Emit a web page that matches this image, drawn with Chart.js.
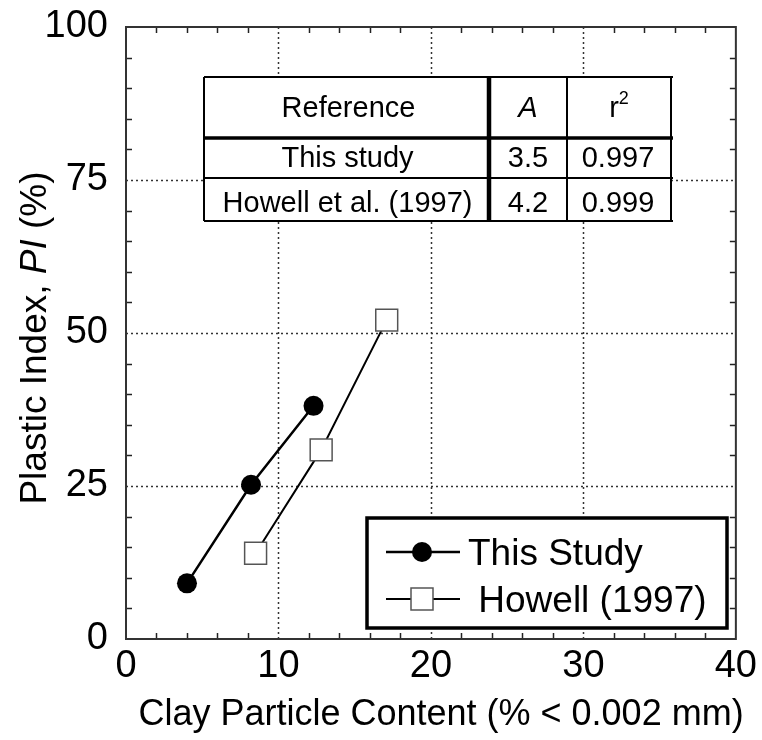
<!DOCTYPE html>
<html>
<head>
<meta charset="utf-8">
<script src="https://cdn.jsdelivr.net/npm/chart.js@4.4.1/dist/chart.umd.min.js"></script>
<style>
  html, body { margin: 0; padding: 0; background: #fff; }
  #wrap { width: 762px; height: 740px; position: relative; }
</style>
</head>
<body>
<div id="wrap"><canvas id="pi-chart"></canvas></div>
<script>
// Clay content vs plastic index
const xThisStudy = [4.0, 8.2, 12.3];
const yThisStudy = [9.1, 25.2, 38.1];
const xHowell = [8.5, 12.8, 17.1];
const yHowell = [14.0, 30.9, 52.1];

const xLabelTicks = [0, 10, 20, 30, 40];
const yLabelTicks = [0, 25, 50, 75, 100];

const legendLabels = ["This Study", " Howell (1997)"];

// inset table
const tableHeader = ["Reference", "A", "r", "2"];
const tableRefs = ["This study", "Howell et al. (1997)"];
const tableA = ["3.5", "4.2"];
const tableR2 = ["0.997", "0.999"];

const xTitle = "Clay Particle Content (% < 0.002 mm)";
const yTitleParts = [["Plastic Index, ", false], ["PI", true], [" (%)", false]];

const FONT = "'Liberation Sans', Arial, sans-serif";

function fontStr(size, italic) {
  return (italic ? "italic " : "") + size + "px " + FONT;
}

function line(ctx, x1, y1, x2, y2) {
  ctx.beginPath();
  ctx.moveTo(x1, y1);
  ctx.lineTo(x2, y2);
  ctx.stroke();
}

const decorPlugin = {
  id: "piDecor",
  beforeDatasetsDraw(chart) {
    const { ctx, chartArea: a, scales: { x, y } } = chart;
    ctx.save();

    // dotted grid at labelled ticks
    ctx.strokeStyle = "#333";
    ctx.lineWidth = 1.5;
    ctx.setLineDash([2, 3]);
    xLabelTicks.slice(1, -1).forEach(v => {
      const px = Math.round(x.getPixelForValue(v)) + 0.5;
      line(ctx, px, a.top, px, a.bottom);
    });
    yLabelTicks.slice(1, -1).forEach(v => {
      const py = Math.round(y.getPixelForValue(v)) + 0.5;
      line(ctx, a.left, py, a.right, py);
    });
    ctx.setLineDash([]);

    // inward minor ticks on all four sides
    ctx.strokeStyle = "#222";
    ctx.lineWidth = 1.5;
    const len = 6;
    x.ticks.forEach(t => {
      if (xLabelTicks.includes(t.value)) return;
      const px = Math.round(x.getPixelForValue(t.value)) + 0.5;
      line(ctx, px, a.bottom, px, a.bottom - len);
      line(ctx, px, a.top, px, a.top + len);
    });
    y.ticks.forEach(t => {
      if (yLabelTicks.includes(t.value)) return;
      const py = Math.round(y.getPixelForValue(t.value)) + 0.5;
      line(ctx, a.left, py, a.left + len, py);
      line(ctx, a.right, py, a.right - len, py);
    });

    // frame
    ctx.strokeStyle = "#333";
    ctx.lineWidth = 2;
    ctx.strokeRect(a.left, a.top, a.right - a.left, a.bottom - a.top);
    ctx.restore();
  },
  afterDatasetsDraw(chart) {
    const ctx = chart.ctx;
    ctx.save();
    drawTable(ctx);
    drawLegend(ctx);
    drawTitles(ctx);
    ctx.restore();
  }
};

function drawTable(ctx) {
  const cx = [204, 489, 567, 671];
  const ry = [77, 138, 178, 221];
  ctx.fillStyle = "#fff";
  ctx.fillRect(cx[0], ry[0], cx[3] - cx[0], ry[3] - ry[0]);

  ctx.strokeStyle = "#000";
  ctx.lineWidth = 2;
  line(ctx, cx[0], ry[0], cx[3] + 2, ry[0]);
  line(ctx, cx[0], ry[3], cx[3] + 2, ry[3]);
  line(ctx, cx[0], ry[0], cx[0], ry[3]);
  line(ctx, cx[3], ry[0], cx[3], ry[3]);
  line(ctx, cx[0], ry[2], cx[3] + 2, ry[2]);
  line(ctx, cx[2], ry[0], cx[2], ry[3]);
  ctx.lineWidth = 3.5;
  line(ctx, cx[0], ry[1], cx[3] + 2, ry[1]);
  ctx.lineWidth = 4.5;
  line(ctx, cx[1], ry[0], cx[1], ry[3]);

  ctx.fillStyle = "#000";
  ctx.textAlign = "center";
  ctx.textBaseline = "alphabetic";
  const mid = i => (cx[i] + cx[i + 1]) / 2;
  const base = [117, 166.5, 211.5];

  ctx.font = fontStr(29);
  ctx.fillText(tableHeader[0], mid(0) + 2, base[0]);
  ctx.font = fontStr(29, true);
  ctx.fillText(tableHeader[1], mid(1), base[0]);
  ctx.font = fontStr(29);
  const rw = ctx.measureText(tableHeader[2]).width;
  ctx.font = fontStr(18);
  const sw = ctx.measureText(tableHeader[3]).width;
  ctx.textAlign = "left";
  const rx = mid(2) - (rw + sw) / 2;
  ctx.font = fontStr(29);
  ctx.fillText(tableHeader[2], rx, base[0]);
  ctx.font = fontStr(18);
  ctx.fillText(tableHeader[3], rx + rw, base[0] - 13);

  ctx.textAlign = "center";
  ctx.font = fontStr(29);
  tableRefs.forEach((r, i) => {
    ctx.fillText(r, mid(0) + 1, base[i + 1]);
    ctx.fillText(tableA[i], mid(1), base[i + 1]);
    ctx.fillText(tableR2[i], mid(2) - 1, base[i + 1]);
  });
}

function drawLegend(ctx) {
  const box = { l: 367, t: 518, r: 727, b: 628 };
  ctx.fillStyle = "#fff";
  ctx.fillRect(box.l, box.t, box.r - box.l, box.b - box.t);
  ctx.strokeStyle = "#000";
  ctx.lineWidth = 3.5;
  ctx.strokeRect(box.l, box.t, box.r - box.l, box.b - box.t);

  const rows = [552, 599];
  ctx.lineWidth = 2.5;
  line(ctx, 386, rows[0], 460, rows[0]);
  ctx.fillStyle = "#000";
  ctx.beginPath();
  ctx.arc(422, rows[0], 10, 0, Math.PI * 2);
  ctx.fill();

  ctx.lineWidth = 2;
  line(ctx, 386, rows[1], 460, rows[1]);
  ctx.fillStyle = "#fff";
  ctx.fillRect(411, rows[1] - 11, 22, 22);
  ctx.strokeStyle = "#555";
  ctx.lineWidth = 1.5;
  ctx.strokeRect(411, rows[1] - 11, 22, 22);

  ctx.fillStyle = "#000";
  ctx.font = fontStr(37);
  ctx.textAlign = "left";
  ctx.textBaseline = "alphabetic";
  ctx.fillText(legendLabels[0], 468, rows[0] + 13);
  ctx.fillText(legendLabels[1], 468, rows[1] + 13);
}

function drawTitles(ctx) {
  ctx.fillStyle = "#000";
  ctx.textBaseline = "alphabetic";
  ctx.textAlign = "center";
  ctx.font = fontStr(36);
  ctx.fillText(xTitle, 441, 725);

  // y title with italic PI
  ctx.save();
  ctx.translate(46, 338);
  ctx.rotate(-Math.PI / 2);
  ctx.textAlign = "left";
  let total = 0;
  const widths = yTitleParts.map(([t, it]) => {
    ctx.font = fontStr(37, it);
    const w = ctx.measureText(t).width;
    total += w;
    return w;
  });
  let px = -total / 2;
  yTitleParts.forEach(([t, it], i) => {
    ctx.font = fontStr(37, it);
    ctx.fillText(t, px, 0);
    px += widths[i];
  });
  ctx.restore();
}

const ctx = document.getElementById("pi-chart").getContext("2d");

new Chart(ctx, {
  type: "scatter",
  data: {
    datasets: [
      {
        label: legendLabels[0],
        data: xThisStudy.map((v, i) => ({ x: v, y: yThisStudy[i] })),
        showLine: true,
        borderColor: "#000",
        borderWidth: 2.5,
        pointStyle: "circle",
        pointRadius: 10,
        pointBorderWidth: 0,
        pointBackgroundColor: "#000",
        pointBorderColor: "#000"
      },
      {
        label: legendLabels[1].trim(),
        data: xHowell.map((v, i) => ({ x: v, y: yHowell[i] })),
        showLine: true,
        borderColor: "#000",
        borderWidth: 2,
        pointStyle: "rect",
        pointRadius: 15.5,
        pointBorderWidth: 1.5,
        pointBackgroundColor: "#fff",
        pointBorderColor: "#555"
      }
    ]
  },
  options: {
    responsive: true,
    maintainAspectRatio: false,
    animation: false,
    layout: { padding: { top: 27, right: 25, bottom: 0, left: 0 } },
    plugins: {
      legend: { display: false },
      tooltip: { enabled: false }
    },
    scales: {
      x: {
        type: "linear",
        min: 0,
        max: 40,
        grid: { display: false, drawTicks: false },
        border: { display: false },
        ticks: {
          stepSize: 2,
          autoSkip: false,
          maxRotation: 0,
          padding: 5,
          color: "#000",
          font: { family: FONT, size: 38 },
          callback: v => (xLabelTicks.includes(v) ? v : "")
        },
        afterFit: scale => { scale.height = 101; }
      },
      y: {
        type: "linear",
        min: 0,
        max: 100,
        grid: { display: false, drawTicks: false },
        border: { display: false },
        ticks: {
          stepSize: 5,
          autoSkip: false,
          padding: 18,
          color: "#000",
          font: { family: FONT, size: 38, lineHeight: 0.4 },
          callback: v => (yLabelTicks.includes(v) ? v : "")
        },
        afterFit: scale => { scale.width = 126; }
      }
    }
  },
  plugins: [decorPlugin]
});
</script>
</body>
</html>
